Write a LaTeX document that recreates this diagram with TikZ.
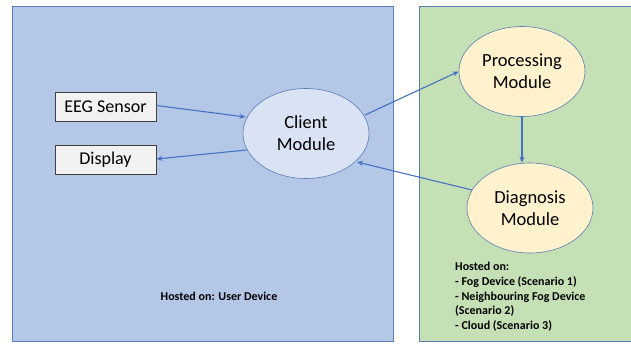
\documentclass[tikz,border=0pt]{standalone}
\usepackage{fontspec}
\setmainfont{Carlito}
\usetikzlibrary{arrows.meta,shapes.geometric}
\definecolor{userbg}{HTML}{B4C7E7}
\definecolor{fogbg}{HTML}{C5E0B4}
\definecolor{frame}{HTML}{5B7DB8}
\definecolor{clientfill}{HTML}{DAE3F3}
\definecolor{modfill}{HTML}{FFF2CC}
\definecolor{arrowc}{HTML}{4472C4}
\definecolor{boxfill}{HTML}{F2F2F2}
\tikzset{
  region/.style={draw=frame, line width=0.9pt},
  iobox/.style={draw=black!75, fill=boxfill, line width=0.8pt, minimum width=101pt, minimum height=29pt, inner sep=0pt, font=\fontsize{18}{22}\selectfont},
  module/.style={ellipse, draw=frame, line width=0.6pt, minimum width=126pt, minimum height=90pt, inner sep=0pt, align=center, font=\fontsize{18.5}{22}\selectfont},
  flow/.style={draw=arrowc, line width=1.1pt, -{Stealth[length=6pt,width=5pt]}},
  note/.style={font=\bfseries\fontsize{12}{14.7}\selectfont, align=left, inner sep=0pt}
}
\begin{document}
\begin{tikzpicture}[x=1pt,y=-1pt]
\useasboundingbox (0,0) rectangle (631,343);
\fill[white] (0,0) rectangle (631,343);
\draw[region, fill=userbg] (12,6) rectangle (393.5,341.5);
\draw[region, fill=fogbg] (419.5,6) rectangle (636,341.5);
\node[iobox] (eeg) at (105.5,106.5) {EEG Sensor};
\node[iobox] (disp) at (105.5,159.5) {Display};
\node[module, fill=clientfill] (client) at (306,133.5) {Client\\Module};
\node[module, fill=modfill] (proc) at (522,71.5) {Processing\\Module};
\node[module, fill=modfill] (diag) at (530,208) {Diagnosis\\Module};
\node[note, anchor=center] (hostu) at (219,296) {Hosted on: User Device};
\node[note, anchor=north west] (hostf) at (455,262) {Hosted on:\\- Fog Device (Scenario 1)\\- Neighbouring Fog Device\\(Scenario 2)\\- Cloud (Scenario 3)};
\coordinate (cin) at (245.5,117);
\coordinate (cout) at (246.5,150);
\coordinate (cup) at (365,115);
\coordinate (cback) at (357,162);
\coordinate (dout) at (472,190);
\coordinate (eout) at (156.5,105.5);
\coordinate (din) at (156.5,159);
\draw[flow] (eout) -- (cin);
\draw[flow] (cout) -- (din);
\draw[flow] (cup) -- (proc.west);
\draw[flow] (proc.south) -- (proc.south |- diag.north);
\draw[flow] (dout) -- (cback);
\end{tikzpicture}
\end{document}
